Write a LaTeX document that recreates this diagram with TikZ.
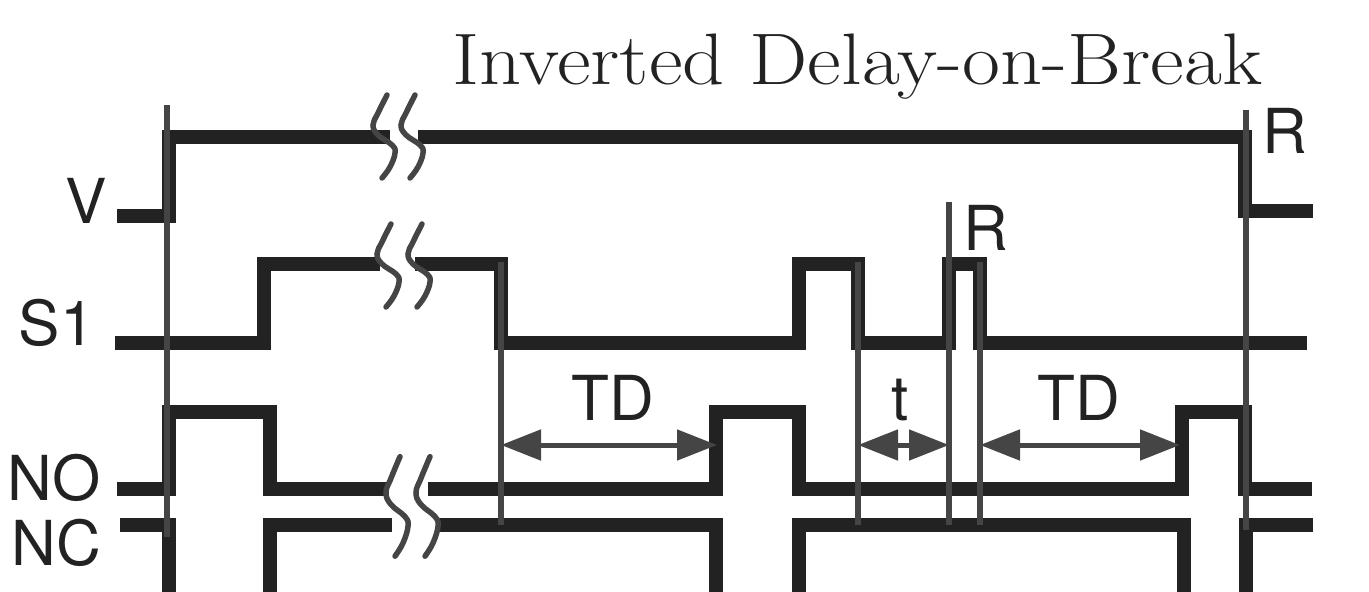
\documentclass[tikz,border=0pt]{standalone}
\usepackage{fontspec}
\setsansfont{TeX Gyre Heros}
\usetikzlibrary{arrows.meta}
\definecolor{sigc}{HTML}{222222}
\definecolor{guidec}{HTML}{454545}
\begin{document}
\begin{tikzpicture}[x=1pt,y=-1pt,
  sig/.style={line width=14pt, draw=sigc, line join=miter, line cap=butt},
  guide/.style={line width=6pt, draw=guidec},
  brkline/.style={line width=5.5pt, draw=guidec, line cap=round},
  lab/.style={font=\sffamily\fontsize{62}{62}\selectfont, text=sigc, inner sep=0pt},
  ttl/.style={font=\rmfamily\fontsize{73}{73}\selectfont, text=sigc, inner sep=0pt},
  dim/.style={line width=5pt, draw=guidec,
    {Triangle[length=40pt,width=30pt]}-{Triangle[length=40pt,width=30pt]}},
]
\useasboundingbox (0,0) rectangle (1369,592);
\clip (0,0) rectangle (1369,592);

% title
\node[ttl, anchor=base west] (title) at (452,84) {\scalebox{1.13}[1]{Inverted Delay-on-Break}};

% labels
\node[lab, anchor=base east] (lV) at (107,223) {V};
\node[lab, anchor=base east] (lS) at (95,345) {S1};
\node[lab, anchor=base east] (lNO) at (101,500) {NO};
\node[lab, anchor=base east] (lNC) at (101,565) {NC};
\node[lab, anchor=base west] (lR1) at (1262,153) {R};
\node[lab, anchor=base west] (lR2) at (963,250) {R};
\node[lab, anchor=base] (lTD1) at (613,420) {TD};
\node[lab, anchor=base] (lt) at (900,420) {t};
\node[lab, anchor=base] (lTD2) at (1079,420) {TD};

% V
\draw[sig] (117,216) -- (169,216) -- (169,137) -- (390,137);
\draw[sig] (418,137) -- (1245,137) -- (1245,211) -- (1313,211);
% S1
\draw[sig] (115,343) -- (264,343) -- (264,264) -- (380,264);
\draw[sig] (415,264) -- (501,264) -- (501,343) -- (799,343) -- (799,264)
  -- (858,264) -- (858,343) -- (949,343) -- (949,264) -- (980,264)
  -- (980,343) -- (1307,343);
% NO
\draw[sig] (117,489) -- (169,489) -- (169,412) -- (270,412) -- (270,489) -- (387,489);
\draw[sig] (428,489) -- (716,489) -- (716,412) -- (799,412) -- (799,489)
  -- (1182,489) -- (1182,412) -- (1245,412) -- (1245,489) -- (1312,489);
% NC
\draw[sig] (120,525) -- (169,525) -- (169,610);
\draw[sig] (270,610) -- (270,525) -- (392,525);
\draw[sig] (437,525) -- (716,525) -- (716,610);
\draw[sig] (799,610) -- (799,525) -- (1184,525) -- (1184,610);
\draw[sig] (1246,610) -- (1246,525) -- (1313,525);

% guide lines
\coordinate (g1t) at (167,105);  \coordinate (g1b) at (167,537);
\coordinate (g2t) at (501,262);  \coordinate (g2b) at (501,525);
\coordinate (g3t) at (858,262);  \coordinate (g3b) at (858,525);
\coordinate (g4t) at (949,202);  \coordinate (g4b) at (949,525);
\coordinate (g5t) at (980,262);  \coordinate (g5b) at (980,525);
\coordinate (g6t) at (1246,110); \coordinate (g6b) at (1246,530);
\foreach \i in {1,...,6}{\draw[guide] (g\i t) -- (g\i b);}

% breaks
\foreach \cx/\cy/\s in {384/137/1, 412/137/1, 388/266/1, 419/266/1, 397/507/1.2, 427/507/1.2}{
  \draw[brkline, shift={(\cx,\cy)}, yscale=\s]
    plot[smooth, tension=0.7] coordinates {(3,-42) (-6,-24) (-11,-12) (-6,-2) (8,8) (11,16) (6,30) (-2,41)};
}

% dimension arrows
\coordinate (a1) at (501,445); \coordinate (b1) at (717,445);
\coordinate (a2) at (858,445); \coordinate (b2) at (949,445);
\coordinate (a3) at (980,445); \coordinate (b3) at (1180,445);
\draw[dim] (a1) -- (b1);
\draw[dim] (a2) -- (b2);
\draw[dim] (a3) -- (b3);
\end{tikzpicture}
\end{document}
